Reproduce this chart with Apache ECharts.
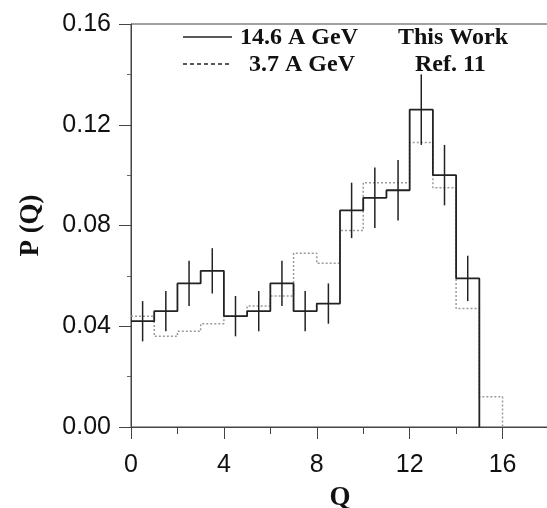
<!DOCTYPE html>
<html>
<head>
<meta charset="utf-8">
<script src="https://cdn.jsdelivr.net/npm/echarts@6/dist/echarts.min.js"></script>
<style>
  html, body { margin: 0; padding: 0; background: #fff; }
  #main { width: 547px; height: 508px; }
</style>
</head>
<body>
<div id="main"></div>
<script>
// bin left edges (width 1) and heights
var binEdges = [0, 1, 2, 3, 4, 5, 6, 7, 8, 9, 10, 11, 12, 13, 14, 15];
var p146 = [0.042, 0.046, 0.057, 0.062, 0.044, 0.046, 0.057, 0.046, 0.049, 0.086, 0.091, 0.094, 0.126, 0.100, 0.059, 0];
var p37 = [0.044, 0.036, 0.038, 0.041, 0.044, 0.048, 0.052, 0.069, 0.065, 0.078, 0.097, 0.097, 0.113, 0.095, 0.047, 0.012];
var err146 = [0.008, 0.008, 0.009, 0.009, 0.008, 0.008, 0.009, 0.008, 0.008, 0.011, 0.012, 0.012, 0.014, 0.012, 0.009];
var xTicks = [0, 4, 8, 12, 16];
var yTicks = [0, 0.04, 0.08, 0.12, 0.16];

var stepA = binEdges.map(function (x, i) { return [x, p146[i]]; });
var stepB = binEdges.map(function (x, i) { return [x, p37[i]]; });
stepB.push([16, 0]);

var errData = [];
for (var i = 0; i < err146.length; i++) {
  errData.push([binEdges[i] + 0.5, p146[i] - err146[i], p146[i] + err146[i]]);
}

var serif = '"Liberation Serif", "Times New Roman", serif';
var sans = '"Liberation Sans", Arial, sans-serif';
var axisCol = '#444';

var chart = echarts.init(document.getElementById('main'));
var option = {
  animation: false,
  backgroundColor: '#fff',
  grid: {
    left: 131, right: -2, top: 24, bottom: 81,
    containLabel: false, outerBoundsMode: 'none',
    show: true, borderColor: axisCol, borderWidth: 1
  },
  xAxis: [{
    type: 'value', min: 0, max: 18, interval: 4,
    name: 'Q', nameLocation: 'middle', nameGap: 58,
    nameTextStyle: { fontFamily: serif, fontWeight: 'bold', fontSize: 27, color: '#111' },
    axisLine: { onZero: false, lineStyle: { color: axisCol, width: 1 } },
    axisTick: { show: true, length: 12, lineStyle: { color: axisCol } },
    splitLine: { show: false },
    axisLabel: {
      margin: 26, fontFamily: sans, fontSize: 25, color: '#111',
      formatter: function (v) { return xTicks.indexOf(v) >= 0 ? String(v) : ''; }
    }
  }, {
    // minor ticks every 2
    type: 'value', min: 0, max: 18, interval: 2, position: 'bottom', offset: 0,
    axisLine: { show: false, onZero: false },
    axisTick: { show: true, length: 7, lineStyle: { color: axisCol } },
    axisLabel: { show: false },
    splitLine: { show: false }
  }],
  yAxis: {
    type: 'value', min: 0, max: 0.16, interval: 0.04,
    name: 'P (Q)', nameLocation: 'middle', nameGap: 86, nameRotate: 90,
    nameTextStyle: { fontFamily: serif, fontWeight: 'bold', fontSize: 27, color: '#111' },
    axisLine: { lineStyle: { color: axisCol, width: 1 } },
    axisTick: { show: true, length: 12, lineStyle: { color: axisCol } },
    minorTick: { show: true, splitNumber: 2, length: 4, lineStyle: { color: '#666' } },
    splitLine: { show: false },
    axisLabel: {
      margin: 20, fontFamily: sans, fontSize: 25, color: '#111',
      formatter: function (v) {
        for (var k = 0; k < yTicks.length; k++) {
          if (Math.abs(v - yTicks[k]) < 1e-9) return v.toFixed(2);
        }
        return '';
      }
    }
  },
  graphic: [
    { type: 'line', shape: { x1: 183, y1: 37, x2: 232, y2: 37 }, style: { stroke: '#222', lineWidth: 1.5 } },
    { type: 'line', shape: { x1: 183, y1: 64, x2: 232, y2: 64 }, style: { stroke: '#222', lineWidth: 1.5, lineDash: [4, 3] } },
    { type: 'text', left: 240, top: 26, style: { text: '14.6 A GeV', font: 'bold 24px ' + serif, fill: '#111' } },
    { type: 'text', left: 249, top: 53, style: { text: '3.7 A GeV', font: 'bold 24px ' + serif, fill: '#111' } },
    { type: 'text', left: 398, top: 26, style: { text: 'This Work', font: 'bold 24px ' + serif, fill: '#111' } },
    { type: 'text', left: 415, top: 53, style: { text: 'Ref. 11', font: 'bold 24px ' + serif, fill: '#111' } }
  ],
  series: [
    {
      type: 'line', step: 'end', data: stepB, symbol: 'none',
      lineStyle: { color: '#9a9a9a', width: 1.5, type: [2, 2] }, z: 2
    },
    {
      type: 'line', step: 'end', data: stepA, symbol: 'none',
      lineStyle: { color: '#222', width: 1.8 }, z: 3
    },
    {
      type: 'custom', data: errData, z: 4,
      renderItem: function (params, api) {
        var lo = api.coord([api.value(0), api.value(1)]);
        var hi = api.coord([api.value(0), api.value(2)]);
        return {
          type: 'line',
          shape: { x1: lo[0], y1: lo[1], x2: hi[0], y2: hi[1] },
          style: { stroke: '#222', lineWidth: 1.5 }
        };
      }
    }
  ]
};
chart.setOption(option);
</script>
</body>
</html>
